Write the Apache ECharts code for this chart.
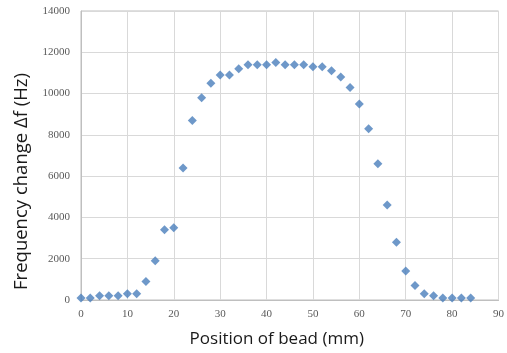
<!DOCTYPE html>
<html>
<head>
<meta charset="utf-8">
<script src="https://cdn.jsdelivr.net/npm/echarts@6/dist/echarts.min.js"></script>
<style>html,body{margin:0;padding:0;background:#fff}#c{width:507px;height:353px}</style>
</head>
<body>
<div id="c"></div>
<script>
const positions = [0,2,4,6,8,10,12,14,16,18,20,22,24,26,28,30,32,34,36,38,40,42,44,46,48,50,52,54,56,58,60,62,64,66,68,70,72,74,76,78,80,82,84];
const freqChange = [100,100,200,200,200,300,300,900,1900,3400,3500,6400,8700,9800,10500,10900,10900,11200,11400,11400,11400,11500,11400,11400,11400,11300,11300,11100,10800,10300,9500,8300,6600,4600,2800,1400,700,300,200,100,100,100,100];
const xName = 'Position of bead (mm)';
const yName = 'Frequency change Δf (Hz)';

const chart = echarts.init(document.getElementById('c'), null, {renderer:'canvas'});
chart.setOption({
  animation:false,
  grid:{left:81,right:8,top:11,bottom:53,show:true,borderColor:'#bfbfbf',borderWidth:1},
  xAxis:{type:'value',min:0,max:90,interval:10,
    name:xName,nameLocation:'middle',nameGap:31,
    nameTextStyle:{fontFamily:'Open Sans',fontSize:17,color:'#1a1a1a',padding:[0,26,0,0]},
    axisLine:{show:true,lineStyle:{color:'#bfbfbf'}},axisTick:{show:false},
    axisLabel:{fontFamily:'Liberation Serif',fontSize:11,color:'#595959',margin:9},
    splitLine:{show:true,lineStyle:{color:'#d9d9d9',width:1}}},
  yAxis:{type:'value',min:0,max:14000,interval:2000,
    name:yName,nameLocation:'middle',nameGap:50,nameRotate:90,
    nameTextStyle:{fontFamily:'Open Sans',fontSize:18.5,color:'#1a1a1a',padding:[0,52,0,0]},
    axisLine:{show:true,lineStyle:{color:'#bfbfbf'}},axisTick:{show:false},
    axisLabel:{fontFamily:'Liberation Serif',fontSize:11,color:'#595959',margin:11,
      formatter:v=>String(v)},
    splitLine:{show:true,lineStyle:{color:'#d9d9d9',width:1}}},
  series:[{type:'scatter',symbol:'diamond',symbolSize:9,
    itemStyle:{color:'#4a7ebb'},
    data:positions.map((p,i)=>[p,freqChange[i]])}]
});
</script>
</body>
</html>
